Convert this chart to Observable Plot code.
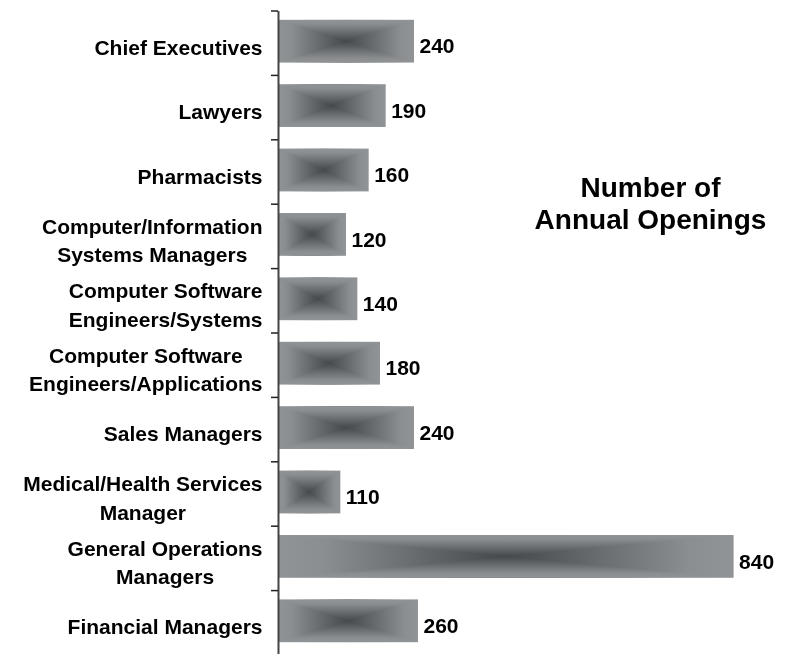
<!DOCTYPE html>
<html><head><meta charset="utf-8">
<script src="https://cdn.jsdelivr.net/npm/d3@7"></script>
<script src="https://cdn.jsdelivr.net/npm/@observablehq/plot@0.6"></script>
<style>
html,body{margin:0;padding:0;background:#fff;}
#chart{position:relative;width:807px;height:654px;overflow:hidden;}
</style></head><body><div id="chart"></div>
<script>
const categories = [
  "Chief Executives",
  "Lawyers",
  "Pharmacists",
  "Computer/Information\nSystems Managers",
  "Computer Software\nEngineers/Systems",
  "Computer Software\nEngineers/Applications",
  "Sales Managers",
  "Medical/Health Services\nManager",
  "General Operations\nManagers",
  "Financial Managers"
];
const values = [240, 190, 160, 120, 140, 180, 240, 110, 804, 247];
const valueLabels = ["240", "190", "160", "120", "140", "180", "240", "110", "840", "260"];
const title = "Number of\nAnnual Openings";

const data = categories.map((c, i) => ({category: c, value: values[i], label: valueLabels[i]}));

const chart = Plot.plot({
  width: 807, height: 654,
  marginLeft: 278, marginRight: 19, marginTop: 11, marginBottom: -1,
  style: {fontFamily: "'Liberation Sans', Arial, sans-serif", background: "transparent", overflow: "visible"},
  x: {domain: [0, 900], axis: null},
  y: {domain: categories, paddingInner: 0.336, paddingOuter: 0.168, round: false, axis: null},
  marks: [
    Plot.barX(data, {x: "value", y: "category", fill: "url(#barH)", dy: -2}),
    Plot.barX(data, {x: "value", y: "category", fill: "url(#barV)", dy: -2, mixBlendMode: "lighten"}),
    Plot.ruleX([0], {stroke: "#444", strokeWidth: 2}),
    Plot.text(data, {x: "value", y: "category", text: "label", textAnchor: "start", dx: 5, dy: 3, fontSize: 21, fontWeight: "bold", fill: "#000"}),
    Plot.text(data, {y: "category", text: "category", frameAnchor: "left", textAnchor: "end", dx: -16, dy: 2, lineHeight: 1.35, fontSize: 21, fontWeight: "bold", fill: "#000"}),
    Plot.text([title], {frameAnchor: "top-right", textAnchor: "middle", lineAnchor: "top", dx: -138, dy: 163, lineHeight: 1.13, fontSize: 28, fontWeight: "bold", fill: "#000"})
  ]
});
document.getElementById("chart").appendChild(chart);

// gradients (rectangular "from center" look = max of horizontal and vertical gradients)
const svg = d3.select(chart);
const defs = svg.insert("defs", ":first-child");
const edge = "#909497", mid = "#8a8e91", center = "#45494b";
function grad(id, horizontal) {
  const g = defs.append("linearGradient").attr("id", id)
    .attr("x1", 0).attr("y1", 0).attr("x2", horizontal ? 1 : 0).attr("y2", horizontal ? 0 : 1);
  [[0, edge], [0.1, mid], [0.5, center], [0.9, mid], [1, edge]]
    .forEach(([o, c]) => g.append("stop").attr("offset", o).attr("stop-color", c));
}
grad("barH", true);
grad("barV", false);
const barGroups = svg.selectAll('g[aria-label="bar"]').nodes();
if (barGroups[1]) barGroups[1].style.mixBlendMode = "lighten";

// center multi-line category labels within their right-aligned block
const textGroups = svg.selectAll('g[aria-label="text"]').nodes();
d3.select(textGroups[1]).selectAll("text").each(function() {
  const w = this.getBBox().width;
  this.setAttribute("text-anchor", "middle");
  this.setAttribute("transform", (this.getAttribute("transform") || "") + ` translate(${-w / 2},0)`);
});

// axis ticks at band boundaries
const ys = chart.scale("y"), xs = chart.scale("x");
const x0 = xs.apply(0);
const bounds = categories.map(c => ys.apply(c) - (ys.step - ys.bandwidth) / 2);
bounds.push(bounds[bounds.length - 1] + ys.step);
const tg = svg.append("g").attr("stroke", "#222").attr("stroke-width", 1.5);
bounds.forEach(b => tg.append("line").attr("x1", x0 - 7).attr("x2", x0).attr("y1", b).attr("y2", b));
</script>
</body></html>
